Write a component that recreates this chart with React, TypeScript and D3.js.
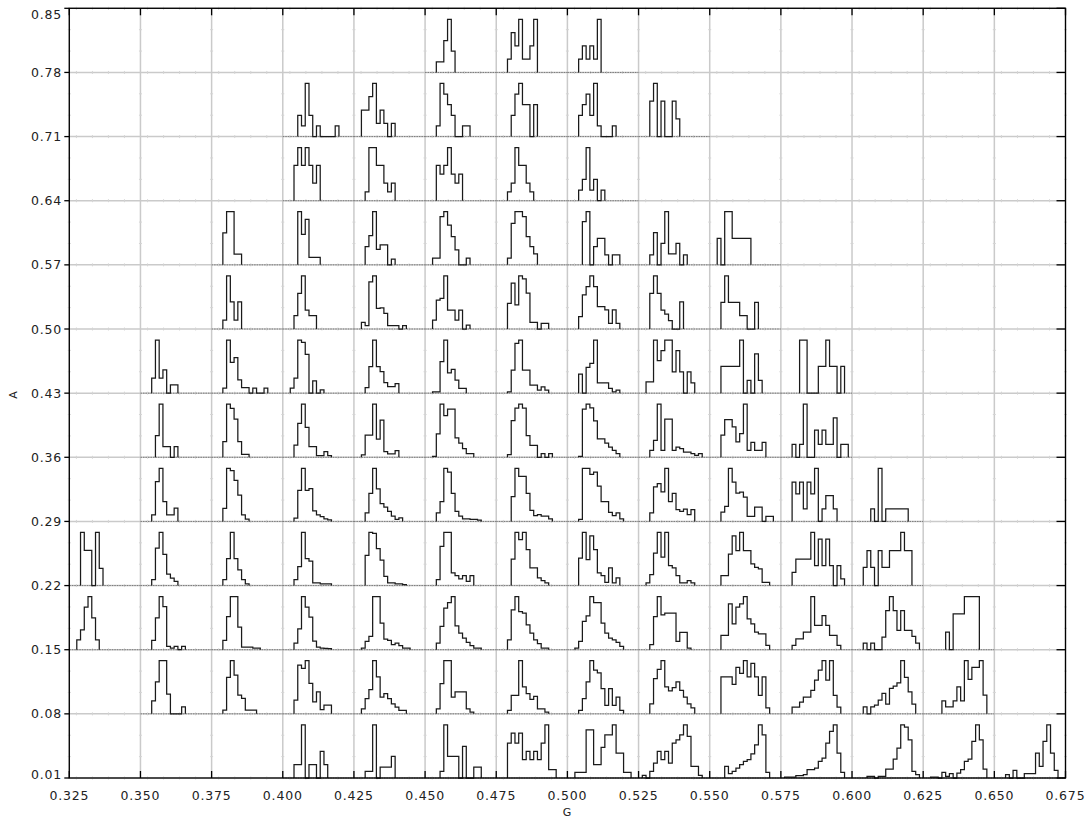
import React from 'react';
import * as d3 from 'd3';

const xTicks = [0.325, 0.35, 0.375, 0.4, 0.425, 0.45, 0.475, 0.5, 0.525, 0.55, 0.575, 0.6, 0.625, 0.65, 0.675];
const xLabels = ['0.325', '0.350', '0.375', '0.400', '0.425', '0.450', '0.475', '0.500', '0.525', '0.550', '0.575', '0.600', '0.625', '0.650', '0.675'];
const yTicks = [0.01, 0.08, 0.15, 0.22, 0.29, 0.36, 0.43, 0.5, 0.57, 0.64, 0.71, 0.78, 0.85];
const yLabels = ['0.01', '0.08', '0.15', '0.22', '0.29', '0.36', '0.43', '0.50', '0.57', '0.64', '0.71', '0.78', '0.85'];
const xTitle = 'G';
const yTitle = 'A';
const NBINS = 19;

// Each entry: [column index, first bin, bin counts...] for the histogram in that grid cell
type Hist = [number, number, number[]];

const rowA001: Hist[] = [
  [3, 3, [40, 40, 160, 0, 40, 40, 0, 80, 40]],
  [4, 3, [20, 20, 160, 0, 33, 33, 33, 65]],
  [5, 4, [20, 160, 65, 65, 65, 0, 95, 0, 0, 33, 33]],
  [6, 3, [105, 135, 105, 135, 55, 80, 55, 80, 55, 105, 160, 25, 25]],
  [7, 2, [17, 17, 17, 145, 145, 40, 40, 92, 130, 130, 160, 75, 75, 17, 17]],
  [8, 1, [8, 0, 20, 45, 80, 55, 80, 45, 105, 115, 130, 160, 125, 35, 35, 8]],
  [9, 4, [35, 13, 20, 30, 40, 50, 55, 73, 100, 160, 130, 17]],
  [10, 1, [3, 3, 3, 7, 7, 10, 25, 25, 30, 50, 60, 105, 140, 160, 75, 17]],
  [11, 4, [5, 5, 0, 5, 5, 27, 27, 57, 90, 160, 153, 115, 20, 10]],
  [12, 2, [3, 3, 0, 17, 5, 13, 0, 15, 25, 50, 57, 110, 160, 115, 27]],
  [13, 3, [10, 0, 23, 0, 0, 13, 13, 13, 75, 35, 110, 160, 75, 23]],
];
const rowA008: Hist[] = [
  [1, 3, [39, 96, 159, 159, 59, 0, 0, 0, 21]],
  [2, 3, [11, 109, 159, 116, 56, 46, 11, 11, 11]],
  [3, 3, [41, 146, 136, 159, 91, 36, 66, 13, 26, 26]],
  [4, 2, [15, 45, 72, 158, 110, 50, 60, 45, 30, 20, 10, 10]],
  [5, 3, [15, 90, 158, 158, 50, 65, 65, 65, 15, 5]],
  [6, 3, [10, 55, 55, 158, 80, 60, 43, 52, 15, 15, 5]],
  [7, 3, [10, 45, 95, 158, 130, 122, 75, 25, 75, 25, 50, 10]],
  [8, 3, [30, 105, 132, 158, 80, 68, 78, 95, 70, 50, 30, 18]],
  [9, 3, [110, 110, 110, 88, 138, 120, 158, 110, 150, 110, 55, 110, 18]],
  [10, 3, [20, 20, 35, 50, 50, 70, 100, 130, 158, 100, 158, 55, 20]],
  [11, 3, [21, 0, 21, 26, 41, 61, 29, 76, 83, 93, 159, 109, 66, 29]],
  [12, 5, [39, 21, 21, 39, 81, 39, 159, 103, 139, 139, 159, 56]],
];
const rowA015: Hist[] = [
  [0, 2, [30, 60, 128, 160, 96, 30]],
  [1, 3, [28, 96, 160, 130, 10, 5, 10, 0, 10]],
  [2, 3, [28, 100, 160, 160, 68, 8, 8, 8, 5, 5]],
  [3, 3, [20, 63, 160, 128, 98, 26, 8, 5, 4, 3]],
  [4, 2, [5, 25, 40, 160, 160, 80, 32, 28, 15, 20, 12, 5, 5]],
  [5, 3, [20, 70, 125, 142, 160, 72, 50, 35, 22, 12, 5, 5]],
  [6, 3, [30, 120, 160, 115, 110, 75, 50, 30, 18, 5, 5]],
  [7, 2, [5, 25, 85, 102, 160, 142, 142, 80, 50, 35, 30, 22, 10]],
  [8, 3, [15, 100, 160, 105, 110, 110, 110, 25, 52, 52, 5]],
  [9, 3, [43, 43, 138, 78, 128, 138, 160, 93, 78, 53, 48, 48, 13]],
  [10, 3, [13, 33, 33, 53, 53, 160, 73, 73, 103, 73, 43, 43, 13]],
  [11, 3, [20, 0, 20, 0, 0, 38, 118, 160, 118, 58, 118, 58, 58, 40, 20]],
  [12, 6, [53, 0, 108, 108, 108, 160, 160, 160, 160]],
];
const rowA022: Hist[] = [
  [0, 3, [163, 108, 108, 0, 163, 53]],
  [1, 3, [18, 115, 163, 96, 35, 23, 13]],
  [2, 3, [18, 83, 163, 83, 48, 18, 5]],
  [3, 3, [18, 58, 163, 83, 75, 8, 8, 5, 5, 5]],
  [4, 3, [93, 163, 160, 113, 78, 28, 8, 8, 5, 5, 3]],
  [5, 3, [18, 118, 160, 160, 38, 30, 20, 30, 13, 30]],
  [6, 4, [80, 160, 138, 160, 108, 53, 53, 23, 15, 8]],
  [7, 3, [83, 160, 78, 150, 108, 38, 30, 10, 53, 8, 23]],
  [8, 2, [8, 33, 98, 160, 86, 160, 60, 53, 30, 8, 8, 15, 8]],
  [9, 3, [30, 30, 95, 150, 105, 160, 105, 105, 65, 55, 50, 10, 10]],
  [10, 3, [40, 80, 80, 80, 80, 160, 60, 140, 60, 140, 60, 0, 60, 20]],
  [11, 3, [55, 105, 55, 0, 105, 55, 55, 105, 105, 105, 160, 105, 105]],
];
const rowA029: Hist[] = [
  [1, 3, [20, 120, 160, 60, 20, 20, 40]],
  [2, 3, [40, 162, 155, 125, 80, 20, 7]],
  [3, 3, [10, 95, 162, 95, 100, 32, 20, 15, 8, 5]],
  [4, 3, [26, 86, 163, 100, 55, 44, 31, 16, 6, 11]],
  [5, 3, [26, 61, 163, 151, 86, 31, 16, 8, 8, 6, 6, 4]],
  [6, 4, [76, 163, 138, 138, 86, 34, 18, 21, 16, 16, 8]],
  [7, 3, [6, 163, 163, 144, 151, 108, 61, 61, 28, 18, 26, 8]],
  [8, 3, [26, 106, 116, 91, 163, 61, 86, 36, 31, 38, 21, 36]],
  [9, 3, [28, 45, 160, 118, 85, 88, 73, 15, 15, 43, 43, 0, 15, 15]],
  [10, 3, [118, 83, 118, 38, 118, 83, 160, 0, 38, 78, 78, 38]],
  [11, 5, [38, 0, 160, 0, 38, 38, 38, 38, 38, 38]],
];
const rowA036: Hist[] = [
  [1, 4, [65, 160, 32, 32, 0, 32]],
  [2, 3, [47, 160, 147, 115, 47, 9, 9]],
  [3, 3, [37, 102, 160, 90, 32, 32, 5, 5, 17, 5]],
  [4, 2, [7, 67, 67, 160, 55, 112, 17, 10, 10, 20]],
  [5, 2, [3, 71, 161, 126, 146, 146, 59, 43, 26, 11, 11]],
  [6, 3, [8, 111, 149, 161, 149, 66, 36, 36, 0, 11, 0, 11]],
  [7, 3, [3, 146, 161, 150, 110, 56, 56, 43, 31, 21, 11]],
  [8, 3, [21, 51, 161, 21, 116, 116, 21, 31, 26, 16, 16, 11, 6, 11]],
  [9, 3, [66, 113, 113, 91, 46, 71, 159, 21, 45, 21, 21, 45]],
  [10, 3, [39, 0, 39, 159, 0, 0, 81, 39, 81, 39, 39, 118, 0, 39, 39]],
];
const rowA043: Hist[] = [
  [1, 3, [45, 160, 45, 70, 0, 25, 25]],
  [2, 3, [15, 160, 93, 107, 40, 17, 17, 0, 15, 0, 0, 15]],
  [3, 2, [15, 45, 160, 153, 117, 0, 37, 0, 10]],
  [4, 3, [17, 80, 160, 80, 65, 32, 20, 20, 29]],
  [5, 2, [4, 4, 94, 159, 61, 71, 39, 14, 14]],
  [6, 3, [4, 69, 149, 159, 69, 69, 24, 24, 9, 19, 9]],
  [7, 3, [57, 0, 77, 89, 159, 31, 31, 31, 14, 4, 9]],
  [8, 2, [34, 34, 159, 97, 127, 159, 159, 64, 127, 64, 0, 64, 31]],
  [9, 3, [81, 81, 81, 81, 81, 161, 0, 39, 0, 119, 39]],
  [10, 5, [161, 161, 0, 0, 0, 81, 81, 161, 81, 81, 0, 81]],
];
const rowA050: Hist[] = [
  [2, 3, [27, 160, 82, 27, 82]],
  [3, 3, [40, 107, 160, 57, 40, 40]],
  [4, 2, [20, 10, 142, 160, 62, 64, 47, 10, 10, 10, 0, 10]],
  [5, 2, [27, 87, 92, 160, 57, 57, 27, 57, 0, 12]],
  [6, 3, [77, 137, 72, 159, 150, 107, 20, 20, 0, 17, 17]],
  [7, 3, [37, 102, 127, 159, 127, 67, 67, 57, 17, 57, 17]],
  [8, 3, [107, 160, 107, 57, 45, 25, 0, 0, 82]],
  [9, 3, [80, 160, 80, 80, 80, 40, 40, 0, 0, 80]],
];
const rowA057: Hist[] = [
  [2, 3, [3, 5, 5, 1, 1]],
  [3, 4, [7, 4, 6, 1, 1, 1]],
  [4, 3, [55, 88, 160, 47, 60, 60, 0, 17]],
  [5, 2, [20, 20, 145, 160, 120, 85, 45, 0, 0, 20]],
  [6, 3, [20, 125, 160, 160, 145, 85, 55, 33]],
  [7, 4, [130, 160, 0, 55, 80, 80, 30, 0, 30, 30]],
  [8, 3, [30, 97, 0, 65, 160, 33, 33, 65, 0, 30]],
  [9, 2, [80, 0, 160, 160, 80, 80, 80, 80, 80]],
];
const rowA064: Hist[] = [
  [3, 3, [2, 3, 2, 3, 2, 1, 2]],
  [4, 3, [1, 6, 6, 4, 4, 2, 1, 2]],
  [5, 3, [4, 3, 4, 6, 3, 2, 3]],
  [6, 3, [1, 2, 6, 4, 4, 2, 1]],
  [7, 3, [1, 2, 5, 1, 2, 0, 1]],
];
const rowA071: Hist[] = [
  [3, 4, [2, 1, 5, 2, 0, 1, 0, 0, 0, 0, 1]],
  [4, 2, [2, 2, 3, 4, 1, 2, 1, 0, 1]],
  [5, 3, [1, 5, 4, 3, 2, 0, 0, 1, 1]],
  [6, 4, [2, 4, 5, 3, 3, 0, 3]],
  [7, 3, [2, 3, 4, 2, 5, 1, 0, 0, 0, 1]],
  [8, 3, [2, 3, 0, 2, 0, 0, 2, 1]],
];
const rowA078: Hist[] = [
  [5, 3, [1, 1, 3, 5, 2]],
  [6, 3, [1, 3, 2, 4, 1, 1, 2, 4]],
  [7, 3, [1, 2, 1, 2, 1, 4]],
];

const histRows: Hist[][] = [rowA001, rowA008, rowA015, rowA022, rowA029, rowA036, rowA043, rowA050, rowA057, rowA064, rowA071, rowA078];

const G0 = 0.325;
const GSTEP = 0.025;
const A0 = 0.01;
const ASTEP = 0.07;
const PEAK = 0.058;

export default function App() {
  const W = 1092;
  const H = 821;
  const left = 69.3, right = 1065.5, top = 8.3, bottom = 778;
  const x = d3.scaleLinear().domain([0.325, 0.675]).range([left, right]);
  const y = d3.scaleLinear().domain([0.01, 0.85]).range([bottom, top]);
  const font = '"DejaVu Sans", "Liberation Sans", sans-serif';

  const line = d3
    .line<[number, number]>()
    .x((d) => x(d[0]))
    .y((d) => y(d[1]))
    .curve(d3.curveStepAfter);

  const paths: string[] = [];
  const baselines: { g0: number; a0: number }[] = [];
  histRows.forEach((row, r) => {
    row.forEach(([c, start, vals]) => {
      const bins = new Array(NBINS).fill(0);
      vals.forEach((v, i) => {
        if (start + i < NBINS) bins[start + i] = v;
      });
      const mx = d3.max(bins) || 1;
      const g0 = G0 + c * GSTEP;
      const a0 = A0 + r * ASTEP;
      const bw = GSTEP / NBINS;
      baselines.push({ g0, a0 });
      let f = bins.findIndex((v) => v > 0);
      let l = NBINS - 1;
      while (l > 0 && bins[l] === 0) l--;
      if (f < 0) return;
      const pts: [number, number][] = [[g0 + f * bw, a0]];
      for (let i = f; i <= l; i++) pts.push([g0 + i * bw, a0 + (bins[i] / mx) * PEAK]);
      pts.push([g0 + (l + 1) * bw, a0 + (bins[l] / mx) * PEAK]);
      pts.push([g0 + (l + 1) * bw, a0]);
      paths.push(line(pts) || '');
    });
  });

  // minor marks on gridlines
  const minorMarks: JSX.Element[] = [];
  yTicks.forEach((t, j) => {
    for (let c = 0; c < xTicks.length - 1; c++) {
      for (let k = 0; k < 4; k++) {
        const gx = x(xTicks[c] + GSTEP * (0.1 + 0.225 * k));
        minorMarks.push(
          <line key={`mh${j}-${c}-${k}`} x1={gx} x2={gx} y1={y(t) - 1.5} y2={y(t) + 1.5} stroke="#d4d4d4" strokeWidth={1} />
        );
      }
    }
  });
  xTicks.forEach((t, j) => {
    for (let r = 0; r < yTicks.length - 1; r++) {
      for (let k = 1; k < 3; k++) {
        const gy = y(yTicks[r] + (ASTEP * k) / 3);
        minorMarks.push(
          <line key={`mv${j}-${r}-${k}`} x1={x(t) - 1.5} x2={x(t) + 1.5} y1={gy} y2={gy} stroke="#d4d4d4" strokeWidth={1} />
        );
      }
    }
  });

  return (
    <svg width={W} height={H} style={{ position: 'absolute', left: 0, top: 0, background: '#fff' }}>
      <rect x={0} y={0} width={W} height={H} fill="#fff" />
      {/* grid */}
      {xTicks.map((t, i) => (
        <line key={`gx${i}`} x1={x(t)} x2={x(t)} y1={top} y2={bottom} stroke="#cacaca" strokeWidth={1.5} />
      ))}
      {yTicks.map((t, i) => (
        <line key={`gy${i}`} x1={left} x2={right} y1={y(t)} y2={y(t)} stroke="#cacaca" strokeWidth={1.5} />
      ))}
      {minorMarks}
      {/* cell baselines of histograms */}
      {baselines.map((b, i) => (
        <line key={`b${i}`} x1={x(b.g0)} x2={x(b.g0 + GSTEP)} y1={y(b.a0)} y2={y(b.a0)} stroke="#7a7a7a" strokeWidth={1} strokeDasharray="1.5 1" />
      ))}
      {/* histograms */}
      {paths.map((d, i) => (
        <path key={`h${i}`} d={d} fill="none" stroke="#1a1a1a" strokeWidth={1.25} />
      ))}
      {/* frame */}
      <rect x={left} y={top} width={right - left} height={bottom - top} fill="none" stroke="#000" strokeWidth={1.3} />
      {/* ticks */}
      {xTicks.map((t, i) => (
        <g key={`xt${i}`}>
          <line x1={x(t)} x2={x(t)} y1={top} y2={top + 7} stroke="#000" strokeWidth={1.3} />
          <line x1={x(t)} x2={x(t)} y1={bottom} y2={bottom - 7} stroke="#000" strokeWidth={1.3} />
        </g>
      ))}
      {yTicks.map((t, i) => (
        <g key={`yt${i}`}>
          <line x1={left} x2={left - 5} y1={y(t)} y2={y(t)} stroke="#000" strokeWidth={1.3} />
          <line x1={right} x2={right - 9} y1={y(t)} y2={y(t)} stroke="#000" strokeWidth={1.3} />
        </g>
      ))}
      {/* tick labels */}
      {xLabels.map((l, i) => (
        <text key={`xl${i}`} x={x(xTicks[i])} y={800} textAnchor="middle" fontFamily={font} fontSize={12.5} letterSpacing={0.8} fill="#222">
          {l}
        </text>
      ))}
      {yLabels.map((l, i) => {
        const off = i === yLabels.length - 1 ? 6 : i === 0 ? -4 : 0;
        return (
          <text key={`yl${i}`} x={62} y={y(yTicks[i]) + off + 4.5} textAnchor="end" fontFamily={font} fontSize={12.5} letterSpacing={0.8} fill="#222">
            {l}
          </text>
        );
      })}
      <text x={567} y={816} textAnchor="middle" fontFamily={font} fontSize={11} fill="#222">
        {xTitle}
      </text>
      <text transform="translate(17,395) rotate(-90)" textAnchor="middle" fontFamily={font} fontSize={11} fill="#222">
        {yTitle}
      </text>
    </svg>
  );
}
